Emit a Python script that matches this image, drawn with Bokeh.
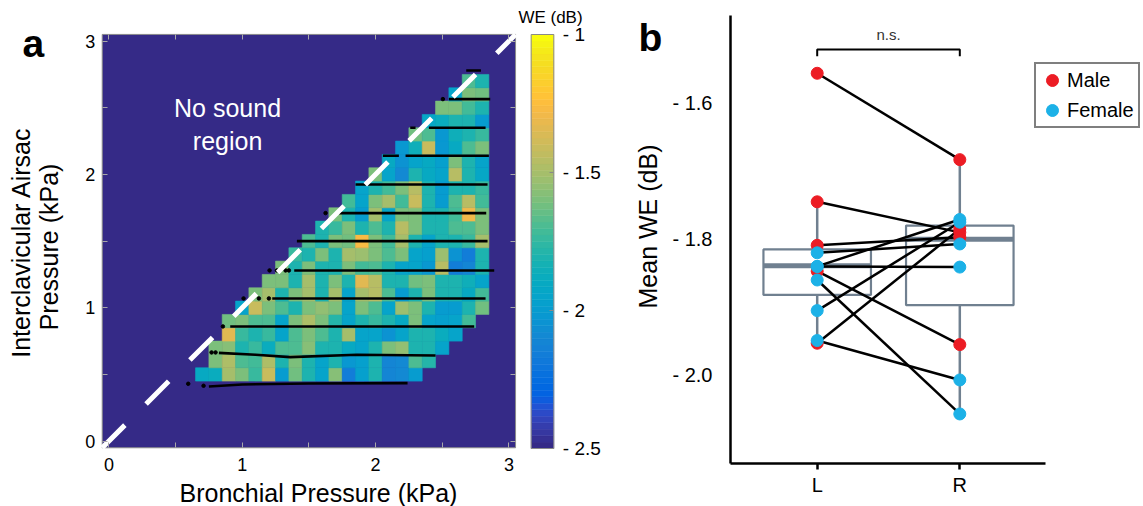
import numpy as np
from bokeh.plotting import figure
from bokeh.models import (ColumnDataSource, LinearColorMapper, FixedTicker, LinearAxis,
                          Label, Legend, LegendItem, Range1d)
from bokeh.core.properties import value
from bokeh.embed import file_html
from bokeh.resources import INLINE

FONT = "Liberation Sans"

# ---------------- panel a data ----------------
# grid rows of the WE map (cell size 0.1 kPa); y level, first x, and values (dB)
row_y = [0.5, 0.6, 0.7, 0.8, 0.9, 1.0, 1.1, 1.2, 1.3, 1.4, 1.5, 1.6, 1.7, 1.8,
         1.9, 2.0, 2.1, 2.2, 2.3, 2.4, 2.5, 2.6, 2.7]
row_x0 = [0.7, 0.8, 0.8, 0.9, 0.9, 1.0, 1.1, 1.2, 1.3, 1.4, 1.5, 1.6, 1.7, 1.8,
          1.9, 2.0, 2.1, 2.2, 2.3, 2.4, 2.5, 2.6, 2.7]
row_we = [
    [-1.90, -1.88, -1.50, -1.60, -1.75, -1.42, -2.00, -1.62, -1.82, -1.95, -1.58, -2.15, -1.98, -1.82, -2.12, -2.10, -2.00],
    [-1.60, -1.48, -1.68, -1.72, -1.48, -1.82, -1.60, -1.80, -1.95, -1.82, -2.02, -1.98, -1.80, -2.12, -2.10, -1.68, -1.78],
    [-1.60, -1.58, -1.82, -1.75, -1.88, -1.68, -1.68, -1.58, -1.82, -1.80, -1.90, -1.95, -1.82, -1.60, -1.55, -1.80, -1.82, -1.95],
    [-1.35, -1.75, -1.82, -1.75, -1.95, -1.68, -1.60, -1.70, -1.80, -1.50, -1.95, -1.95, -2.05, -1.95, -1.82, -1.80, -1.88, -1.95],
    [-1.62, -1.60, -1.70, -1.68, -1.95, -1.60, -1.48, -1.60, -1.78, -1.95, -1.82, -1.75, -1.82, -1.90, -1.60, -1.95, -1.98, -1.95, -1.72],
    [-1.95, -1.42, -1.60, -1.70, -1.80, -1.60, -1.55, -1.60, -1.95, -1.60, -1.68, -1.95, -1.52, -1.60, -1.82, -2.00, -2.00, -1.82, -1.62],
    [-1.60, -1.50, -1.82, -1.60, -1.50, -1.82, -1.50, -1.95, -1.50, -1.45, -1.70, -2.00, -1.82, -1.60, -1.82, -1.82, -1.90, -1.72],
    [-1.60, -1.60, -1.82, -1.50, -1.82, -1.60, -1.82, -1.35, -1.45, -1.82, -1.80, -1.62, -1.60, -1.82, -1.80, -1.85, -1.95],
    [-1.60, -1.82, -1.60, -1.82, -1.82, -1.60, -1.72, -1.68, -1.82, -1.95, -1.95, -2.02, -1.45, -2.15, -2.12, -1.82],
    [-1.75, -1.82, -1.60, -1.82, -1.50, -1.52, -1.60, -1.70, -1.60, -1.95, -1.98, -1.52, -2.05, -2.15, -1.82],
    [-1.68, -1.82, -1.60, -1.62, -1.27, -1.60, -1.72, -1.50, -1.82, -1.95, -1.82, -1.82, -1.75, -1.50],
    [-1.82, -1.75, -1.60, -1.80, -1.68, -1.82, -1.45, -1.60, -1.82, -1.80, -1.70, -1.70, -1.60],
    [-1.60, -1.82, -2.00, -1.50, -1.95, -1.60, -1.60, -1.82, -1.80, -1.72, -1.30, -1.60],
    [-1.72, -1.95, -1.60, -1.50, -1.72, -1.42, -1.82, -2.00, -1.68, -1.45, -1.72],
    [-1.95, -1.82, -1.72, -1.60, -1.45, -1.82, -2.00, -1.82, -1.80, -1.75],
    [-1.60, -1.95, -2.08, -1.82, -1.90, -1.95, -1.45, -1.82, -1.92],
    [-1.90, -2.05, -1.95, -1.90, -1.98, -1.60, -1.82, -1.95],
    [-2.02, -1.85, -1.42, -2.02, -1.90, -1.68, -1.60],
    [-1.62, -1.68, -2.02, -1.85, -1.80, -1.75],
    [-1.92, -1.88, -1.82, -1.82, -2.00],
    [-1.60, -1.60, -1.72, -1.80],
    [-1.95, -1.60, -1.62],
    [-1.70, -1.80],
]

# pressure trajectories (black traces)
traj_x = [
    [2.68, 2.79],
    [2.55, 2.86],
    [2.26, 2.30], [2.40, 2.825],
    [2.055, 2.175], [2.225, 2.85],
    [1.85, 2.84],
    [1.725, 2.83],
    [1.41, 2.84],
    [1.39, 2.89],
    [1.225, 2.825],
    [0.91, 2.74],
    [0.825, 1.10, 1.36, 1.86, 2.45],
    [0.75, 1.00, 1.50, 2.24],
]
traj_y = [
    [2.78, 2.78],
    [2.565, 2.565],
    [2.35, 2.35], [2.35, 2.35],
    [2.14, 2.14], [2.14, 2.14],
    [1.925, 1.925],
    [1.71, 1.71],
    [1.50, 1.50],
    [1.28, 1.28],
    [1.07, 1.07],
    [0.86, 0.86],
    [0.662, 0.648, 0.630, 0.648, 0.642],
    [0.410, 0.425, 0.432, 0.435],
]
dot_x = [2.505, 1.625, 1.205, 1.26, 1.325, 1.35, 1.01, 1.125, 1.20, 0.855, 0.77, 0.80, 0.595, 0.71]
dot_y = [2.565, 1.71, 1.28, 1.28, 1.28, 1.28, 1.07, 1.07, 1.07, 0.86, 0.665, 0.665, 0.43, 0.415]

extent = [-0.05, 3.05]          # pressure-map extent (kPa)
a_ticks = [0, 1, 2, 3]
a_minor = [0.5, 1.5, 2.5]
no_sound_text = ["No sound", "region"]

cb_ticks = [-2.5, -2.0, -1.5, -1.0]
cb_labels = ["- 2.5", "- 2", "- 1.5", "- 1"]

# ---------------- panel b data ----------------
sex = ["Male"] * 5 + ["Female"] * 6
we_L = [-1.556, -1.745, -1.809, -1.847, -1.953, -1.820, -1.840, -1.840, -1.860, -1.905, -1.949]
we_R = [-1.683, -1.790, -1.797, -1.955, -1.785, -1.807, -1.771, -1.841, -2.057, -1.775, -2.007]
side_pos = [1, 2]
side_labels = ["L", "R"]
box_q1 = [-1.882, -1.897]
box_med = [-1.839, -1.800]
box_q3 = [-1.815, -1.780]
whisk_lo = [-1.949, -2.057]
whisk_hi = [-1.745, -1.683]
b_ticks = [-2.0, -1.8, -1.6]
b_labels = ["- 2.0", "- 1.8", "- 1.6"]
sig_y = -1.521
sig_drop = -1.531

# ---------------- parula colormap ----------------
PARULA_RGB = [
    (0.2081, 0.1663, 0.5292), (0.2116, 0.1898, 0.5777), (0.2123, 0.2138, 0.6270), (0.2081, 0.2386, 0.6771),
    (0.1959, 0.2645, 0.7279), (0.1707, 0.2919, 0.7792), (0.1253, 0.3242, 0.8303), (0.0591, 0.3598, 0.8683),
    (0.0117, 0.3875, 0.8820), (0.0060, 0.4086, 0.8828), (0.0165, 0.4266, 0.8786), (0.0329, 0.4430, 0.8720),
    (0.0498, 0.4586, 0.8641), (0.0629, 0.4737, 0.8554), (0.0723, 0.4887, 0.8467), (0.0779, 0.5040, 0.8384),
    (0.0793, 0.5200, 0.8312), (0.0749, 0.5375, 0.8263), (0.0641, 0.5570, 0.8240), (0.0488, 0.5772, 0.8228),
    (0.0343, 0.5966, 0.8199), (0.0265, 0.6137, 0.8135), (0.0239, 0.6287, 0.8038), (0.0231, 0.6418, 0.7913),
    (0.0228, 0.6535, 0.7768), (0.0267, 0.6642, 0.7607), (0.0384, 0.6743, 0.7436), (0.0590, 0.6838, 0.7254),
    (0.0843, 0.6928, 0.7062), (0.1133, 0.7015, 0.6859), (0.1453, 0.7098, 0.6646), (0.1801, 0.7177, 0.6424),
    (0.2178, 0.7250, 0.6193), (0.2586, 0.7317, 0.5954), (0.3022, 0.7376, 0.5712), (0.3482, 0.7424, 0.5473),
    (0.3953, 0.7459, 0.5244), (0.4420, 0.7481, 0.5033), (0.4871, 0.7491, 0.4840), (0.5300, 0.7491, 0.4661),
    (0.5709, 0.7485, 0.4494), (0.6099, 0.7473, 0.4337), (0.6473, 0.7456, 0.4188), (0.6834, 0.7435, 0.4044),
    (0.7184, 0.7411, 0.3905), (0.7525, 0.7384, 0.3768), (0.7858, 0.7356, 0.3633), (0.8185, 0.7327, 0.3498),
    (0.8507, 0.7299, 0.3360), (0.8824, 0.7274, 0.3217), (0.9139, 0.7258, 0.3063), (0.9450, 0.7261, 0.2886),
    (0.9739, 0.7314, 0.2666), (0.9938, 0.7455, 0.2403), (0.9990, 0.7653, 0.2164), (0.9955, 0.7861, 0.1967),
    (0.9880, 0.8066, 0.1794), (0.9789, 0.8271, 0.1633), (0.9697, 0.8481, 0.1475), (0.9626, 0.8705, 0.1309),
    (0.9589, 0.8949, 0.1132), (0.9598, 0.9218, 0.0948), (0.9661, 0.9514, 0.0755), (0.9763, 0.9831, 0.0538),
]
PARULA = ["#%02x%02x%02x" % tuple(int(round(c * 255)) for c in rgb) for rgb in PARULA_RGB]

# ================= one canvas, three coordinate systems =================
W, H = 1143, 506
p = figure(width=W, height=H, x_range=Range1d(0, W), y_range=Range1d(0, H),
           x_axis_location=None, y_axis_location=None, toolbar_location=None,
           output_backend="svg", min_border=0)
p.outline_line_color = None
p.background_fill_color = "white"
p.border_fill_color = "white"
p.grid.visible = False

# panel a scales: 133.33 px per kPa
p.extra_x_ranges["ax"] = Range1d(-0.8130, 7.7597)
p.extra_y_ranges["ay"] = Range1d(-0.4905, 3.3045)
# colorbar scales
p.extra_x_ranges["cx"] = Range1d(-23.482, 27.093)
p.extra_y_ranges["cy"] = Range1d(-2.7101, -0.8768)
# panel b scales
p.extra_x_ranges["bx"] = Range1d(-4.7272, 3.2882)
p.extra_y_ranges["by"] = Range1d(-2.19309, -1.44897)
A = dict(x_range_name="ax", y_range_name="ay")
C = dict(x_range_name="cx", y_range_name="cy")
B = dict(x_range_name="bx", y_range_name="by")


def screen_label(x, y_top, text, size, **kw):
    """Text anchored (middle) at a position measured from the top-left of the canvas."""
    return Label(x=x, y=H - y_top, x_units="screen", y_units="screen", text=text,
                 text_font=FONT, text_font_size=size, text_baseline="middle",
                 text_color="black", **kw)


# ---------------- panel a ----------------
p.quad(left=extent[0], right=extent[1], bottom=extent[0], top=extent[1],
       fill_color=PARULA[0], line_color="#8a8a8a", line_width=1, **A)

cx, cy, cv = [], [], []
for y0, x0, vals in zip(row_y, row_x0, row_we):
    for i, v in enumerate(vals):
        cx.append(round(x0 + 0.1 * i, 3))
        cy.append(y0)
        cv.append(v)
mapper = LinearColorMapper(palette=PARULA, low=-2.5, high=-1.0)
cells = ColumnDataSource(dict(x=cx, y=cy, we=cv))
p.rect(x="x", y="y", width=0.1, height=0.1, source=cells,
       fill_color={"field": "we", "transform": mapper},
       line_color={"field": "we", "transform": mapper}, line_width=0.6, **A)

p.multi_line(xs=traj_x, ys=traj_y, line_color="black", line_width=2.6, **A)
p.scatter(x=dot_x, y=dot_y, size=3.5, color="black", **A)

p.line(x=extent, y=extent, line_color="white", line_width=5, line_dash="32 30",
       line_cap="butt", **A)

p.text(x=[0.89, 0.89], y=[2.495, 2.25], text=no_sound_text, text_color="white",
       text_font=value(FONT), text_font_size="25px", text_align="center",
       text_baseline="middle", **A)

ticker_a = FixedTicker(ticks=a_ticks, minor_ticks=a_minor)
tick_style = dict(axis_line_color=None, major_tick_in=5, major_tick_out=0,
                  minor_tick_in=5, minor_tick_out=0,
                  major_tick_line_color="#a8a8a8", minor_tick_line_color="#a8a8a8",
                  major_label_text_font=FONT, major_label_text_font_size="18px",
                  major_label_text_color="black", bounds=(extent[0], extent[1]))
p.add_layout(LinearAxis(ticker=ticker_a, fixed_location=extent[0],
                        major_label_standoff=10, **tick_style, **A), "below")
p.add_layout(LinearAxis(ticker=ticker_a, fixed_location=extent[0],
                        major_label_standoff=7, **tick_style, **A), "left")
blank = {t: "" for t in a_ticks}
p.add_layout(LinearAxis(ticker=ticker_a, fixed_location=extent[1],
                        major_label_overrides=blank, **tick_style, **A), "above")
p.add_layout(LinearAxis(ticker=ticker_a, fixed_location=extent[1],
                        major_label_overrides=blank, **tick_style, **A), "right")

p.add_layout(screen_label(22, 43, "a", "39px", text_font_style="bold", text_align="left"))
p.add_layout(screen_label(318, 492, "Bronchial Pressure (kPa)", "25px", text_align="center"))
p.add_layout(screen_label(20, 242, "Interclavicular Airsac", "25px",
                          angle=np.pi / 2, text_align="center"))
p.add_layout(screen_label(48, 243, "Pressure  (kPa)", "25px",
                          angle=np.pi / 2, text_align="center"))

# ---------------- colorbar ----------------
edges = np.linspace(-2.5, -1.0, len(PARULA) + 1)
p.quad(left=0, right=1, bottom=edges[:-1], top=edges[1:], fill_color=PARULA,
       line_color=PARULA, line_width=0.5, **C)
p.quad(left=0, right=1, bottom=-2.5, top=-1.0, fill_color=None,
       line_color="#8a8a8a", line_width=1, **C)
p.add_layout(LinearAxis(ticker=FixedTicker(ticks=cb_ticks),
                        major_label_overrides=dict(zip(cb_ticks, cb_labels)),
                        fixed_location=1, bounds=(-2.5, -1.0),
                        axis_line_color=None, major_tick_in=4, major_tick_out=0,
                        major_tick_line_color="#8a8a8a", minor_tick_out=0, minor_tick_in=0,
                        major_label_standoff=9, major_label_text_font=FONT,
                        major_label_text_font_size="19px", major_label_text_color="black",
                        **C), "right")
p.add_layout(screen_label(550, 17, "WE (dB)", "17px", text_align="center"))

# ---------------- panel b ----------------
b_x0, b_x1 = 0.392, 2.601
b_y0, b_y1 = -2.12985, -1.47103
p.add_layout(LinearAxis(ticker=FixedTicker(ticks=side_pos),
                        major_label_overrides=dict(zip(side_pos, side_labels)),
                        fixed_location=b_y0, bounds=(b_x0, b_x1),
                        axis_line_color="black", axis_line_width=2.5,
                        major_tick_out=6, major_tick_in=0, major_tick_line_width=2.5,
                        minor_tick_out=0, minor_tick_in=0, major_label_standoff=5,
                        major_label_text_font=FONT, major_label_text_font_size="20px",
                        major_label_text_color="black", **B), "below")
p.add_layout(LinearAxis(ticker=FixedTicker(ticks=b_ticks),
                        major_label_overrides=dict(zip(b_ticks, b_labels)),
                        fixed_location=b_x0, bounds=(b_y0, b_y1),
                        axis_line_color="black", axis_line_width=2.5,
                        major_tick_out=0, major_tick_in=0, minor_tick_out=0, minor_tick_in=0,
                        major_label_standoff=18, major_label_text_font=FONT,
                        major_label_text_font_size="20px", major_label_text_color="black",
                        **B), "left")

BOX = "#708090"
half = 0.377
p.segment(x0=side_pos, y0=box_q3, x1=side_pos, y1=whisk_hi, line_color=BOX, line_width=2.5, **B)
p.segment(x0=side_pos, y0=box_q1, x1=side_pos, y1=whisk_lo, line_color=BOX, line_width=2.5, **B)
p.quad(left=[s - half for s in side_pos], right=[s + half for s in side_pos],
       bottom=box_q1, top=box_q3, fill_color=None, line_color=BOX, line_width=2.2, **B)
p.segment(x0=[s - half for s in side_pos], y0=box_med, x1=[s + half for s in side_pos],
          y1=box_med, line_color=BOX, line_width=5, **B)

n = len(we_L)
p.segment(x0=[side_pos[0]] * n, y0=we_L, x1=[side_pos[1]] * n, y1=we_R,
          line_color="black", line_width=2.5, **B)

RED, BLUE = "#ec1c24", "#1cb1e7"
renderers = {}
for s, col in [("Male", RED), ("Female", BLUE)]:
    lv = [v for v, g in zip(we_L, sex) if g == s]
    rv = [v for v, g in zip(we_R, sex) if g == s]
    renderers[s] = p.scatter(x=[side_pos[0]] * len(lv) + [side_pos[1]] * len(rv), y=lv + rv,
                             size=12, fill_color=col, line_color=col, **B)

p.line(x=[1, 1, 2, 2], y=[sig_drop, sig_y, sig_y, sig_drop], line_color="black",
       line_width=2, **B)
p.add_layout(Label(x=1.5, y=-1.499, text="n.s.", text_font=FONT, text_font_size="15px",
                   text_color="#333333", text_align="center", text_baseline="middle", **B))

leg = Legend(items=[LegendItem(label="Male", renderers=[renderers["Male"]]),
                    LegendItem(label="Female", renderers=[renderers["Female"]])],
             location=(1034, H - 128), orientation="vertical", margin=0, padding=1,
             spacing=-5, glyph_width=30, glyph_height=30, label_standoff=-4,
             label_width=70, label_text_font=FONT, label_text_font_size="20px",
             label_text_color="black",
             border_line_color="black", border_line_width=2, background_fill_alpha=1)
p.add_layout(leg)

p.add_layout(screen_label(638, 37, "b", "39px", text_font_style="bold", text_align="left"))
p.add_layout(screen_label(647, 226, "Mean WE (dB)", "25px", angle=np.pi / 2,
                          text_align="center"))

open("out.html", "w").write(file_html(p, INLINE))
